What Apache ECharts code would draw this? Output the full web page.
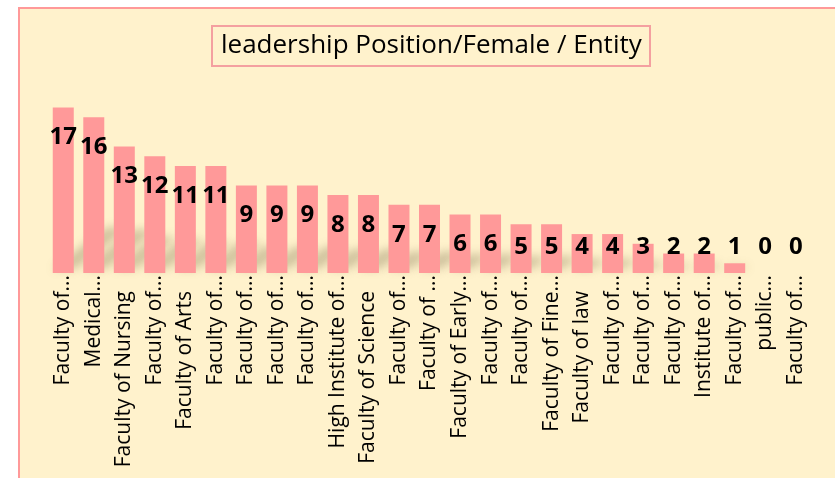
<!DOCTYPE html>
<html>
<head>
<meta charset="utf-8">
<script src="https://cdn.jsdelivr.net/npm/echarts@6/dist/echarts.min.js"></script>
<style>
    html, body { margin: 0; padding: 0; background: #fff; }
    #wrap { position: relative; width: 835px; height: 478px; overflow: hidden; }
    #frame {
        position: absolute; left: 18px; top: 7px; width: 900px; height: 520px;
        background: #FFF2CC; border: 2px solid #FF9999;
    }
    #main { position: absolute; left: 0; top: 0; width: 835px; height: 478px; }
</style>
</head>
<body>
<div id="wrap">
    <div id="frame"></div>
    <div id="main"></div>
</div>
<script>
    var chartTitle = 'leadership Position/Female / Entity';

    // 各单位名称（图上显示的是截断后的文字）
    var entities = ['Faculty of...', 'Medical...', 'Faculty of Nursing', 'Faculty of...', 'Faculty of Arts',
        'Faculty of...', 'Faculty of...', 'Faculty of...', 'Faculty of...', 'High Institute of...',
        'Faculty of Science', 'Faculty of...', 'Faculty of ...', 'Faculty of Early...', 'Faculty of...',
        'Faculty of...', 'Faculty of Fine...', 'Faculty of law', 'Faculty of...', 'Faculty of...',
        'Faculty of...', 'Institute of...', 'Faculty of...', 'public...', 'Faculty of...'];

    var femaleCount = [17, 16, 13, 12, 11, 11, 9, 9, 9, 8, 8, 7, 7, 6, 6, 5, 5, 4, 4, 3, 2, 2, 1, 0, 0];

    // 数字标签：高的柱子放在柱内顶部，矮的柱子统一放在底部上方
    var barData = femaleCount.map(function(v){
        if( v >= 6 ){
            return { value: v, label: { position: 'insideTop', distance: 18 } };
        }
        return { value: v, label: { position: 'insideBottom', distance: 14 } };
    });

    // 柱子后面的透视阴影（往右上斜，压扁）
    var shadowItem = function(params, api){
        var idx = api.value(0);
        var v = api.value(1);
        if( !v ){
            return;
        }
        var base = api.coord([idx, 0]);
        var top = api.coord([idx, v]);
        var sh = (base[1] - top[1]) * 0.25;
        var half = 10.5;
        var skew = sh * 1.3;
        var y0 = base[1] - 4;
        var y1 = y0 - sh;
        var cx = base[0];
        var off = 3000; // 图形本身画到画布外，只留下模糊的影子
        return {
            type: 'polygon',
            shape: {
                points: [
                    [cx - half - off, y0],
                    [cx + half - off, y0],
                    [cx + half + skew - off, y1],
                    [cx - half + skew - off, y1]
                ]
            },
            style: {
                fill: '#000',
                shadowBlur: 10,
                shadowColor: 'rgba(120,105,70,0.36)',
                shadowOffsetX: off
            }
        };
    };

    var myChart = echarts.init(document.getElementById('main'));
    var option = {
        backgroundColor: 'transparent',
        animation: false,
        title: {
            text: chartTitle,
            left: 212,
            top: 26,
            padding: [7, 9, 7, 9],
            borderColor: '#F4A0A0',
            borderWidth: 2,
            textStyle: {
                fontFamily: 'Open Sans',
                fontSize: 26,
                fontWeight: 'normal',
                color: '#000'
            }
        },
        grid: {
            left: 48,
            right: 24,
            top: 107.5,
            bottom: 205,
            containLabel: false
        },
        xAxis: {
            type: 'category',
            data: entities,
            axisLine: { show: false },
            axisTick: { show: false },
            axisLabel: {
                interval: 0,
                rotate: 90,
                margin: 2,
                fontFamily: 'Open Sans',
                fontSize: 21,
                color: '#000',
                // 完整显示的名称比被截断的名称往下缩一点
                formatter: function(name){
                    if( /\.\.\.$/.test(name) ){
                        return '{cut|' + name + '}';
                    }
                    return '{full|' + name + '}';
                },
                rich: {
                    cut: {
                        fontFamily: 'Open Sans',
                        fontSize: 21,
                        color: '#000'
                    },
                    full: {
                        fontFamily: 'Open Sans',
                        fontSize: 21,
                        color: '#000',
                        padding: [0, 16, 0, 0]
                    }
                }
            }
        },
        yAxis: {
            type: 'value',
            min: 0,
            max: 17,
            show: false,
            splitLine: { show: false }
        },
        series: [
            {
                type: 'custom',
                z: 1,
                silent: true,
                renderItem: shadowItem,
                data: femaleCount.map(function(v, i){ return [i, v]; }),
                encode: { x: 0, y: 1 }
            },
            {
                type: 'bar',
                z: 2,
                data: barData,
                barWidth: 21,
                itemStyle: {
                    color: '#FF9999'
                },
                label: {
                    show: true,
                    fontFamily: 'Open Sans',
                    fontSize: 24,
                    fontWeight: 'bold',
                    color: '#000'
                }
            }
        ]
    };
    myChart.setOption( option );
</script>
</body>
</html>
